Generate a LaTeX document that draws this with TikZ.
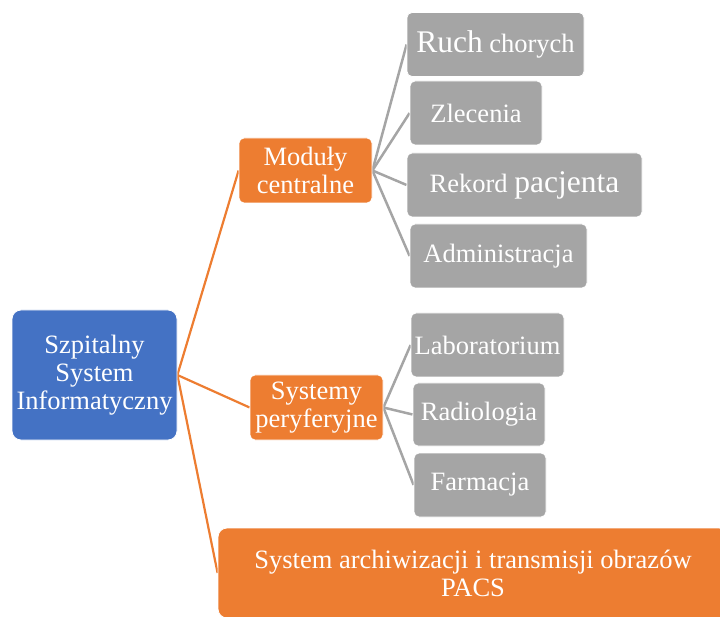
\documentclass[tikz,border=0pt]{standalone}
\usepackage{fontspec}
\setmainfont{Liberation Serif}
\usetikzlibrary{backgrounds}

\definecolor{rootblue}{HTML}{4472C4}
\definecolor{grouporange}{HTML}{ED7D31}
\definecolor{leafgray}{HTML}{A5A5A5}

\newcommand{\bigword}[1]{{\fontsize{31.5}{34}\selectfont #1}}

\begin{document}
\begin{tikzpicture}[x=1pt,y=-1pt]

	\tikzstyle{box}   = [rectangle, draw=white, line width=0.8pt, text=white, align=center, inner sep=2pt, font=\fontsize{26.5}{28}\selectfont]
	\tikzstyle{root box}   = [box, fill=rootblue, rounded corners=9pt, minimum width=165pt, minimum height=130pt]
	\tikzstyle{group box} = [box, fill=grouporange, rounded corners=5pt, minimum width=133pt, minimum height=65pt]
	\tikzstyle{leaf box} = [box, fill=leafgray, rounded corners=5pt, minimum height=64pt]
	\tikzstyle{orange link} = [draw=grouporange, line width=2.2pt]
	\tikzstyle{gray link} = [draw=leafgray, line width=2.5pt]

	\useasboundingbox (0,0) rectangle (720,617);
	\clip (0,0) rectangle (720,617);

	\node [root box] (ssi) at (94.5,375) {Szpitalny\\System\\Informatyczny};

	\node [group box] (mod) at (305.5,170.5) {Moduły\\centralne};
	\node [group box] (per) at (316.5,407.5) {Systemy\\peryferyjne};
	\node [box, fill=grouporange, rounded corners=9pt, minimum width=510pt, minimum height=90pt] (pacs) at (473,573)
		{System archiwizacji i transmisji obrazów\\PACS};

	\node [leaf box, minimum width=177pt] (ruch) at (495.5,44.5) {\bigword{Ruch} chorych};
	\node [leaf box, minimum width=132pt] (zlec) at (476,113) {Zlecenia};
	\node [leaf box, minimum width=235pt] (rek)  at (524.5,185) {Rekord \bigword{pacjenta}};
	\node [leaf box, minimum width=177pt] (adm)  at (498.5,256) {Administracja};

	\node [leaf box, minimum width=153pt] (lab)  at (487.5,345) {Laboratorium};
	\node [leaf box, minimum width=132pt, minimum height=63pt] (rad) at (479,414.5) {Radiologia};
	\node [leaf box, minimum width=132pt] (farm) at (480,485) {Farmacja};

	\begin{pgfonlayer}{background}
		\draw [orange link] (ssi.east) -- (mod.west);
		\draw [orange link] (ssi.east) -- (per.west);
		\draw [orange link] (ssi.east) -- (pacs.west);

		\foreach \leaf in {ruch,zlec,rek,adm}
			\draw [gray link] (mod.east) -- (\leaf.west);
		\foreach \leaf in {lab,rad,farm}
			\draw [gray link] (per.east) -- (\leaf.west);
	\end{pgfonlayer}
\end{tikzpicture}
\end{document}
